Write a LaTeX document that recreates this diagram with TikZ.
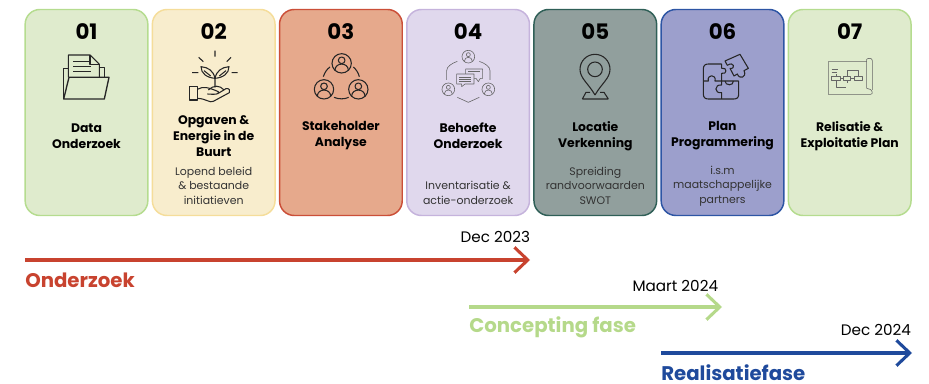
\documentclass[tikz,border=0pt]{standalone}
\usepackage{fontspec}
\setmainfont{Poppins}
\usetikzlibrary{arrows.meta, positioning}
\definecolor{greenline}{HTML}{B5DC8F}
\definecolor{greenfill}{HTML}{DFEBCD}
\definecolor{yellowline}{HTML}{F5DD9A}
\definecolor{yellowfill}{HTML}{F8EDCD}
\definecolor{redline}{HTML}{CB4F38}
\definecolor{redfill}{HTML}{E6A98C}
\definecolor{lilacline}{HTML}{C5B3DC}
\definecolor{lilacfill}{HTML}{E0D8ED}
\definecolor{tealline}{HTML}{2F5F57}
\definecolor{tealfill}{HTML}{919F9D}
\definecolor{blueline}{HTML}{2D55A4}
\definecolor{bluefill}{HTML}{9C9FCC}
\definecolor{arrowred}{HTML}{C8432F}
\definecolor{arrowgreen}{HTML}{B5D98A}
\definecolor{arrowblue}{HTML}{1F4A9C}
\tikzstyle{card} = [draw, rectangle, rounded corners=11pt, line width=1.1pt, minimum height=154.5pt, minimum width=92pt]
\tikzstyle{number} = [font=\bfseries\fontsize{16}{18}\selectfont, node distance=60.4pt]
\tikzstyle{title} = [font=\bfseries\fontsize{9.3}{12}\selectfont, align=center, node distance=17.5pt]
\tikzstyle{subtext} = [font=\fontsize{8.2}{10.9}\selectfont, align=center, text=black!80, node distance=55pt]
\tikzstyle{date} = [font=\fontsize{11.4}{13}\selectfont, node distance=17pt]
\tikzstyle{phase} = [font=\bfseries\fontsize{14.8}{16}\selectfont, inner sep=0pt, node distance=15pt]
\tikzstyle{arrow} = [line width=2.3pt, -{Straight Barb[length=10pt, width=19pt]}]
\tikzstyle{iconline} = [line width=0.8pt, black!85, line join=round]
\tikzstyle{iconthin} = [line width=0.45pt, black!60, line join=round]
\tikzstyle{iconscale} = [x=0.25pt, y=-0.25pt]

\begin{document}
\begin{tikzpicture}[x=0.75pt, y=-0.75pt, node distance=95.4pt]
    \useasboundingbox (0,0) rectangle (929,384);
    % Cards
    \node (DataCard) [card, draw=greenline, fill=greenfill] at (86.5,112.5) {};
    \node (BuurtCard) [card, draw=yellowline, fill=yellowfill, right of=DataCard] {};
    \node (StakeholderCard) [card, draw=redline, fill=redfill, right of=BuurtCard] {};
    \node (BehoefteCard) [card, draw=lilacline, fill=lilacfill, right of=StakeholderCard] {};
    \node (LocatieCard) [card, draw=tealline, fill=tealfill, right of=BehoefteCard] {};
    \node (PlanCard) [card, draw=blueline, fill=bluefill, right of=LocatieCard] {};
    \node (ExploitatieCard) [card, draw=greenline, fill=greenfill, right of=PlanCard] {};

    % Numbers
    \node (DataNumber) [number, above of=DataCard] {01};
    \node (BuurtNumber) [number, above of=BuurtCard] {02};
    \node (StakeholderNumber) [number, above of=StakeholderCard] {03};
    \node (BehoefteNumber) [number, above of=BehoefteCard] {04};
    \node (LocatieNumber) [number, above of=LocatieCard] {05};
    \node (PlanNumber) [number, above of=PlanCard] {06};
    \node (ExploitatieNumber) [number, above of=ExploitatieCard] {07};

    % Titles
    \node (DataTitle) [title, below of=DataCard] {Data\\Onderzoek};
    \node (BuurtTitle) [title, below of=BuurtCard] {Opgaven \&\\Energie in de\\Buurt};
    \node (StakeholderTitle) [title, below of=StakeholderCard] {Stakeholder\\Analyse};
    \node (BehoefteTitle) [title, below of=BehoefteCard] {Behoefte\\Onderzoek};
    \node (LocatieTitle) [title, below of=LocatieCard] {Locatie\\Verkenning};
    \node (PlanTitle) [title, below of=PlanCard] {Plan\\Programmering};
    \node (ExploitatieTitle) [title, below of=ExploitatieCard] {Relisatie \&\\Exploitatie Plan};

    % Small texts
    \node (BuurtText) [subtext, below of=BuurtCard] {Lopend beleid\\\& bestaande\\initiatieven};
    \node (BehoefteText) [subtext, below of=BehoefteCard, yshift=-5.3pt] {Inventarisatie \&\\actie-onderzoek};
    \node (LocatieText) [subtext, below of=LocatieCard] {Spreiding\\randvoorwaarden\\SWOT};
    \node (PlanText) [subtext, below of=PlanCard] {i.s.m\\maatschappelijke\\partners};

    % Folder icon
    \begin{scope}[iconscale]
        \draw [iconline] (205,232) -- (205,165) -- (270,165) -- (298,193) -- (298,232);
        \draw [iconline] (270,165) -- (270,193) -- (298,193);
        \draw [iconline] (220,185) -- (268,185) (220,200) -- (272,200) (220,215) -- (272,215);
        \draw [iconline] (205,205) -- (191,205) -- (191,297);
        \draw [iconline] (298,203) -- (313,203) -- (313,232);
        \draw [iconline, line width=1pt] (207,232) -- (327,232) -- (313,297) -- (191,297) -- cycle;
    \end{scope}

    % Plant icon
    \begin{scope}[iconscale]
        \draw [iconline] (645,152) -- (645,170) (596,172) -- (610,185) (693,172) -- (680,185) (576,218) -- (595,218) (695,218) -- (713,218);
        \draw [iconline] (645,235) .. controls (640,212) and (625,202) .. (603,200) .. controls (603,220) and (620,233) .. (645,235);
        \draw [iconline] (645,235) .. controls (650,212) and (665,202) .. (687,200) .. controls (687,220) and (670,233) .. (645,235);
        \draw [iconline] (645,235) -- (645,262) (612,212) -- (632,228) (678,212) -- (658,228);
        \draw [iconline] (625,270) .. controls (640,255) and (660,255) .. (672,270);
        \draw [iconline] (569,260) rectangle (592,300);
        \draw [iconline] (592,268) .. controls (610,258) and (625,262) .. (655,275) .. controls (660,285) and (640,283) .. (622,282);
        \draw [iconline] (655,280) -- (678,266) .. controls (688,264) and (692,272) .. (688,278) -- (640,304) .. controls (628,310) and (620,296) .. (592,295);
    \end{scope}

    % People icon
    \begin{scope}[shift={(300,0)}, iconscale]
        \draw [iconline] (125,190) circle (29) (125,181) circle (10);
        \draw [iconline] (105,211) .. controls (105,186) and (145,186) .. (145,211);
        \draw [iconline] (72,268) circle (29) (72,259) circle (10);
        \draw [iconline] (52,289) .. controls (52,264) and (92,264) .. (92,289);
        \draw [iconline] (175,268) circle (29) (175,259) circle (10);
        \draw [iconline] (155,289) .. controls (155,264) and (195,264) .. (195,289);
        \draw [iconline] (70,230) .. controls (74,218) and (80,208) .. (90,201);
        \draw [iconline] (160,201) .. controls (168,208) and (175,218) .. (178,230);
        \draw [iconline] (102,292) .. controls (115,298) and (135,298) .. (146,292);
    \end{scope}

    % Meeting icon
    \begin{scope}[shift={(300,0)}, iconscale]
        \draw [iconthin] (505,170) circle (19) (505,164) circle (6);
        \draw [iconthin] (493,184) .. controls (493,168) and (517,168) .. (517,184);
        \draw [iconthin] (445,268) circle (19) (445,262) circle (6);
        \draw [iconthin] (433,282) .. controls (433,266) and (457,266) .. (457,282);
        \draw [iconthin] (565,268) circle (19) (565,262) circle (6);
        \draw [iconthin] (553,282) .. controls (553,266) and (577,266) .. (577,282);
        \draw [iconthin] (472,184) .. controls (455,190) and (440,200) .. (440,212) -- (440,240);
        \draw [iconthin] (538,184) .. controls (555,190) and (570,200) .. (570,212) -- (570,240);
        \draw [iconthin] (472,292) -- (505,307) -- (538,292);
        \draw [iconthin] (497,222) -- (497,207) -- (548,207) -- (548,235) -- (541,235) -- (535,245) -- (528,235) -- (522,235);
        \draw [iconthin] (470,222) -- (522,222) -- (522,252) -- (495,252) -- (485,260) -- (485,252) -- (470,252) -- cycle;
        \draw [iconthin] (478,231) -- (514,231) (478,238) -- (514,238) (478,245) -- (514,245) (505,215) -- (540,215);
    \end{scope}

    % Pin icon
    \begin{scope}[shift={(300,0)}, iconscale]
        \draw [iconline] (885,285) .. controls (865,250) and (840,235) .. (840,208) arc (180:360:45) .. controls (930,235) and (905,250) .. (885,285);
        \draw [iconline] (885,208) circle (22);
        \draw [iconline] (847,297) -- (858,277) -- (870,277) (925,297) -- (912,277) -- (900,277) (847,297) -- (925,297);
    \end{scope}

    % Puzzle icon
    \begin{scope}[shift={(610,0)}, iconscale]
        \draw [iconline] (335,192) -- (295,192) .. controls (285,192) and (280,197) .. (280,207) -- (280,282) .. controls (280,292) and (285,297) .. (295,297) -- (372,297) .. controls (382,297) and (386,292) .. (386,282) -- (386,243);
        \draw [iconline] (335,192) -- (335,205) .. controls (352,200) and (352,225) .. (335,220) -- (335,243);
        \draw [iconline] (280,243) -- (295,243) .. controls (290,222) and (320,222) .. (315,243) -- (386,243);
        \draw [iconline] (335,243) -- (335,255) .. controls (312,252) and (312,282) .. (335,278) -- (335,297);
        \draw [iconline] (345,243) .. controls (345,258) and (372,258) .. (370,243);
        \draw [iconline] (345,183) -- (390,163) -- (415,205) -- (402,212) .. controls (412,232) and (388,240) .. (382,222) -- (372,228) -- (360,205) .. controls (378,208) and (372,182) .. (352,196) -- cycle;
    \end{scope}

    % Plan icon
    \begin{scope}[shift={(610,0)}, iconscale]
        \draw [iconthin] (770,185) -- (655,185) -- (655,283) -- (782,283) .. controls (790,283) and (787,270) .. (780,268) -- (770,265) -- (770,178) .. controls (772,175) and (787,172) .. (787,182) -- (787,270);
        \draw [iconthin] (665,228) rectangle (690,242) (700,228) rectangle (722,242) (733,228) rectangle (758,242);
        \draw [iconthin] (665,209) -- (685,209) (665,218) -- (680,218);
        \draw [iconthin] (678,228) -- (678,222) (711,228) -- (711,210) -- (745,210) -- (745,228) (690,235) -- (700,235) (722,235) -- (733,235);
        \draw [iconthin] (678,242) -- (678,262) -- (708,262) (711,242) -- (711,250);
    \end{scope}

    % Timeline arrows
    \coordinate (OnderzoekStart) at (25,260);
    \coordinate (OnderzoekEnd) at (530,260);
    \coordinate (ConceptingStart) at (469,307);
    \coordinate (ConceptingEnd) at (722,307);
    \coordinate (RealisatieStart) at (661,353);
    \coordinate (RealisatieEnd) at (912,353);
    \draw [arrow, arrowred] (OnderzoekStart) -- (OnderzoekEnd);
    \draw [arrow, arrowgreen] (ConceptingStart) -- (ConceptingEnd);
    \draw [arrow, arrowblue] (RealisatieStart) -- (RealisatieEnd);

    % Labels
    \node (OnderzoekLabel) [phase, text=arrowred, below of=OnderzoekStart, anchor=west] {Onderzoek};
    \node (ConceptingLabel) [phase, text=arrowgreen, below of=ConceptingStart, anchor=west] {Concepting fase};
    \node (RealisatieLabel) [phase, text=arrowblue, below of=RealisatieStart, anchor=west] {Realisatiefase};
    \node (OnderzoekDate) [date, above of=OnderzoekEnd, xshift=-26pt] {Dec 2023};
    \node (ConceptingDate) [date, above of=ConceptingEnd, xshift=-35pt, yshift=-1.5pt] {Maart 2024};
    \node (RealisatieDate) [date, above of=RealisatieEnd, xshift=-27pt] {Dec 2024};
\end{tikzpicture}
\end{document}
